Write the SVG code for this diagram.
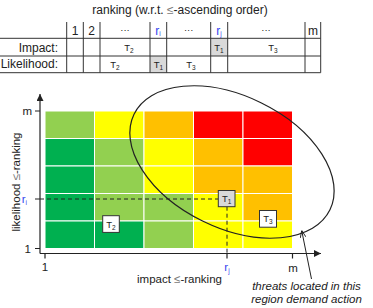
<svg xmlns="http://www.w3.org/2000/svg" width="373" height="308" viewBox="0 0 373 308">
<defs>
<style>
text{font-family:"Liberation Sans",Arial,sans-serif;fill:#222}
.t11{font-size:11.5px}
.t12{font-size:12px}
.tl{font-size:9.5px}
.sub{font-size:6.5px}
.blue{fill:#3344ee}
.le{fill:#777}
.tab{stroke:#333;stroke-width:1;fill:none}
.gc{fill:#d9d9d9}
.cell{stroke:#fff;stroke-width:1}
.G{fill:#00B050}.LG{fill:#92D050}.Y{fill:#FFFF00}.O{fill:#FFC000}.R{fill:#FF0000}
.ax{stroke:#222;stroke-width:1.2;fill:none}
.dash{stroke:#222;stroke-width:1;stroke-dasharray:4 3;fill:none}
.box{stroke:#333;stroke-width:1}
</style>
<marker id="ah" viewBox="0 0 10 10" refX="10" refY="5" markerWidth="8" markerHeight="7" orient="auto" markerUnits="userSpaceOnUse"><path d="M0,0 L10,5 L0,10 z" fill="#222"/></marker>
<marker id="oh" viewBox="0 0 10 10" refX="10" refY="5" markerWidth="7" markerHeight="7" orient="auto" markerUnits="userSpaceOnUse"><path d="M0,1 L10,5 L0,9" fill="none" stroke="#222" stroke-width="1.3"/></marker>
</defs>
<rect width="373" height="308" fill="#fff"/>

<g id="table">
<text class="t12" x="180" y="13.5" text-anchor="middle">ranking (w.r.t. <tspan class="le">≤</tspan>-ascending order)</text>
<rect class="gc" x="210.7" y="38.3" width="17" height="17.7"/>
<rect class="gc" x="150" y="56" width="16.7" height="16.7"/>
<path class="tab" d="M0,38.3H320.7M0,56H320.7M0,72.7H320.7M66.7,22V72.7M83.3,22V72.7M100,22V72.7M150,22V72.7M166.7,22V72.7M210.7,22V72.7M227.7,22V72.7M305,22V72.7M320.7,22V72.7"/>
<g class="t12" text-anchor="middle">
<text x="75" y="34.5">1</text>
<text x="91.7" y="34.5">2</text>
<text x="125" y="33" class="tl">···</text>
<text x="158" y="34.5" class="blue">r<tspan class="sub" dy="1.5">i</tspan></text>
<text x="188.7" y="33" class="tl">···</text>
<text x="219" y="34.5" class="blue">r<tspan class="sub" dy="1.5">j</tspan></text>
<text x="266" y="33" class="tl">···</text>
<text x="313" y="34.5">m</text>
</g>
<text class="t12" x="58" y="51.5" text-anchor="end">Impact:</text>
<text class="t12" x="58" y="68" text-anchor="end">Likelihood:</text>
<g class="tl" text-anchor="middle">
<text x="129" y="50.5">T<tspan class="sub" dy="2">2</tspan></text>
<text x="219" y="50.5">T<tspan class="sub" dy="2">1</tspan></text>
<text x="273" y="50.5">T<tspan class="sub" dy="2">3</tspan></text>
<text x="115" y="67.5">T<tspan class="sub" dy="2">2</tspan></text>
<text x="158.5" y="67.5">T<tspan class="sub" dy="2">1</tspan></text>
<text x="191" y="67.5">T<tspan class="sub" dy="2">3</tspan></text>
</g>
</g>

<g id="grid">
<rect class="cell LG" x="45" y="111" width="49.5" height="27.5"/>
<rect class="cell Y" x="94.5" y="111" width="49.5" height="27.5"/>
<rect class="cell O" x="144" y="111" width="49.5" height="27.5"/>
<rect class="cell R" x="193.5" y="111" width="49.5" height="27.5"/>
<rect class="cell R" x="243" y="111" width="49.5" height="27.5"/>
<rect class="cell G" x="45" y="138.5" width="49.5" height="27.5"/>
<rect class="cell LG" x="94.5" y="138.5" width="49.5" height="27.5"/>
<rect class="cell Y" x="144" y="138.5" width="49.5" height="27.5"/>
<rect class="cell O" x="193.5" y="138.5" width="49.5" height="27.5"/>
<rect class="cell R" x="243" y="138.5" width="49.5" height="27.5"/>
<rect class="cell G" x="45" y="166" width="49.5" height="27.5"/>
<rect class="cell LG" x="94.5" y="166" width="49.5" height="27.5"/>
<rect class="cell Y" x="144" y="166" width="49.5" height="27.5"/>
<rect class="cell O" x="193.5" y="166" width="49.5" height="27.5"/>
<rect class="cell O" x="243" y="166" width="49.5" height="27.5"/>
<rect class="cell G" x="45" y="193.5" width="49.5" height="27.5"/>
<rect class="cell LG" x="94.5" y="193.5" width="49.5" height="27.5"/>
<rect class="cell LG" x="144" y="193.5" width="49.5" height="27.5"/>
<rect class="cell Y" x="193.5" y="193.5" width="49.5" height="27.5"/>
<rect class="cell O" x="243" y="193.5" width="49.5" height="27.5"/>
<rect class="cell G" x="45" y="221" width="49.5" height="27.5"/>
<rect class="cell G" x="94.5" y="221" width="49.5" height="27.5"/>
<rect class="cell LG" x="144" y="221" width="49.5" height="27.5"/>
<rect class="cell Y" x="193.5" y="221" width="49.5" height="27.5"/>
<rect class="cell Y" x="243" y="221" width="49.5" height="27.5"/>
</g>

<g id="axes">
<line class="ax" x1="40" y1="253.5" x2="40" y2="94" marker-end="url(#ah)"/>
<line class="ax" x1="40" y1="253.5" x2="321" y2="253.5" marker-end="url(#ah)"/>
<path class="ax" d="M35,111H40M35,199H40M35,248.5H40M45,253.5V258.5M227,253.5V258.5M292.5,253.5V258.5"/>
<text class="t11" x="32" y="115" text-anchor="end">m</text>
<text class="t11 blue" x="27" y="203" text-anchor="end">r<tspan class="sub" dy="1.5">i</tspan></text>
<text class="t11" x="31" y="252.5" text-anchor="end">1</text>
<text class="t11" x="45" y="270.5" text-anchor="middle">1</text>
<text class="t11 blue" x="227" y="271" text-anchor="middle">r<tspan class="sub" dy="1.5">j</tspan></text>
<text class="t11" x="293" y="272" text-anchor="middle">m</text>
<text x="179.5" y="282.5" text-anchor="middle" font-size="11.5">impact <tspan class="le">≤</tspan>-ranking</text>
<text transform="translate(19.5,182) rotate(-90)" text-anchor="middle" font-size="11.5">likelihood <tspan class="le">≤</tspan>-ranking</text>
</g>

<g id="connectors">
<path class="dash" d="M40,199H218.3M227,206.7V253.5"/>
<ellipse cx="232" cy="162" rx="109" ry="66" transform="rotate(26 232 162)" fill="none" stroke="#222" stroke-width="1.2"/>
<line x1="311.5" y1="279" x2="301.7" y2="230.5" stroke="#222" stroke-width="1" marker-end="url(#oh)"/>
</g>

<g id="T1"><rect class="box" x="218.3" y="190.5" width="16.7" height="16.2" fill="#d9d9d9"/><text class="tl" x="226.6" y="202" text-anchor="middle">T<tspan class="sub" dy="2">1</tspan></text></g>
<g id="T2"><rect class="box" x="102.7" y="215.7" width="16.6" height="16.7" fill="#fff"/><text class="tl" x="111" y="227.5" text-anchor="middle">T<tspan class="sub" dy="2">2</tspan></text></g>
<g id="T3"><rect class="box" x="259.5" y="210.5" width="17" height="16.7" fill="#fff"/><text class="tl" x="268" y="222" text-anchor="middle">T<tspan class="sub" dy="2">3</tspan></text></g>

<g id="note">
<text x="306.5" y="289.5" text-anchor="middle" font-size="11.5" font-style="italic">threats located in this</text>
<text x="306.5" y="302.5" text-anchor="middle" font-size="11.5" font-style="italic">region demand action</text>
</g>
</svg>
